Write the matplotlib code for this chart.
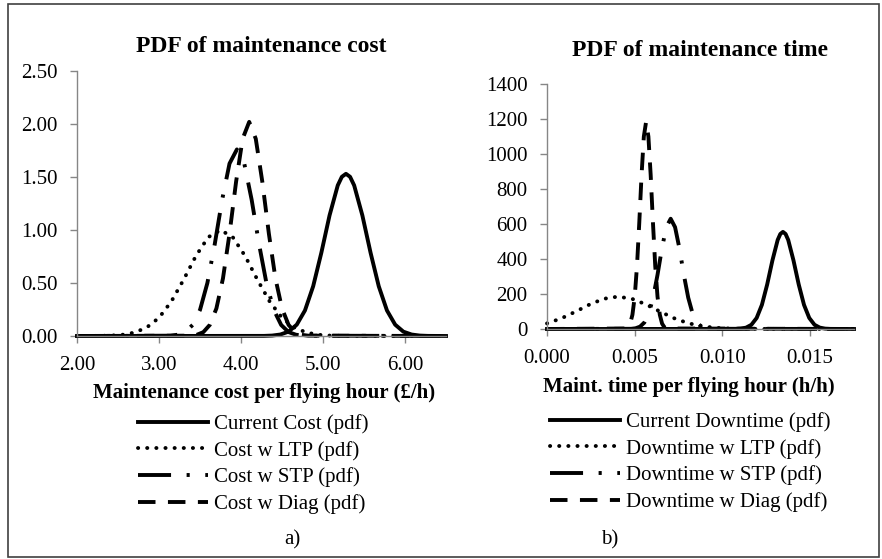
import matplotlib.pyplot as plt
from matplotlib.patches import Rectangle
from matplotlib.ticker import FormatStrFormatter

plt.rcParams['font.family'] = ['Liberation Serif', 'DejaVu Serif']

# ---- a) maintenance cost per flying hour (pdf values read off the chart)
cost_current_x = [2.00, 4.28, 4.38, 4.48, 4.58, 4.68, 4.78, 4.88, 4.98, 5.08, 5.18, 5.23,
                  5.28, 5.33, 5.38, 5.48, 5.58, 5.68, 5.78, 5.88, 5.98, 6.08, 6.18, 6.28, 6.50]
cost_current_y = [0.000, 0.001, 0.004, 0.014, 0.041, 0.107, 0.241, 0.469, 0.786, 1.138, 1.421, 1.502,
                  1.530, 1.502, 1.421, 1.138, 0.786, 0.469, 0.241, 0.107, 0.041, 0.014, 0.004, 0.001, 0.000]

cost_ltp_x = [2.00, 2.25, 2.40, 2.55, 2.70, 2.85, 3.00, 3.15, 3.30, 3.45, 3.60, 3.75,
              3.90, 4.05, 4.20, 4.35, 4.50, 4.65, 4.80, 4.95, 5.10, 5.25, 6.50]
cost_ltp_y = [0.000, 0.001, 0.003, 0.011, 0.032, 0.080, 0.172, 0.325, 0.531, 0.755, 0.932, 1.000,
              0.932, 0.755, 0.531, 0.325, 0.172, 0.080, 0.032, 0.011, 0.003, 0.001, 0.000]

cost_stp_x = [2.00, 3.14, 3.23, 3.32, 3.41, 3.50, 3.59, 3.68, 3.77, 3.86, 3.95,
              4.04, 4.13, 4.22, 4.31, 4.40, 4.49, 4.58, 4.67, 4.76, 6.50]
cost_stp_y = [0.000, 0.003, 0.012, 0.037, 0.104, 0.246, 0.500, 0.867, 1.285, 1.627, 1.760,
              1.627, 1.285, 0.867, 0.500, 0.246, 0.104, 0.037, 0.012, 0.003, 0.000]

cost_diag_x = [2.00, 3.38, 3.46, 3.54, 3.62, 3.70, 3.78, 3.86, 3.94, 4.02, 4.10,
               4.18, 4.26, 4.34, 4.42, 4.50, 4.58, 4.66, 4.74, 4.82, 6.50]
cost_diag_y = [0.000, 0.003, 0.011, 0.036, 0.105, 0.260, 0.543, 0.965, 1.455, 1.861, 2.020,
               1.861, 1.455, 0.965, 0.543, 0.260, 0.105, 0.036, 0.011, 0.003, 0.000]

# ---- b) maintenance time per flying hour
time_current_x = [0.0, 0.01075, 0.01105, 0.01135, 0.01165, 0.01195, 0.01225, 0.01255, 0.01285, 0.01315,
                  0.01330, 0.01345, 0.01360, 0.01375, 0.01405, 0.01435, 0.01465, 0.01495, 0.01525,
                  0.01555, 0.01585, 0.01615, 0.0175]
time_current_y = [0, 0.5, 2.2, 7.9, 24, 63, 138, 254, 392, 509,
                  543, 555, 543, 509, 392, 254, 138, 63, 24,
                  7.9, 2.2, 0.5, 0]

time_ltp_x = [0.0, 0.00084, 0.00164, 0.00244, 0.00324, 0.00404, 0.00484, 0.00564,
              0.00644, 0.00724, 0.00804, 0.00884, 0.00964, 0.01044, 0.01124, 0.0175]
time_ltp_y = [32, 61.7, 99.8, 140.6, 172.7, 185, 172.7, 140.6,
              99.8, 61.7, 33.3, 15.7, 6.4, 2.3, 0.7, 0]

time_stp_x = [0.0, 0.00480, 0.00505, 0.00530, 0.00555, 0.00580, 0.00605, 0.00630, 0.00655, 0.00680, 0.00705,
              0.00730, 0.00755, 0.00780, 0.00805, 0.00830, 0.00855, 0.00880, 0.00905, 0.00930, 0.0175]
time_stp_y = [0, 1.1, 4.1, 13.3, 37, 88, 179, 310, 460, 582, 630,
              582, 460, 310, 179, 88, 37, 13.3, 4.1, 1.1, 0]

time_diag_x = [0.0, 0.00448, 0.00461, 0.00474, 0.00487, 0.00500, 0.00513, 0.00526, 0.00539, 0.00552, 0.00565,
               0.00578, 0.00591, 0.00604, 0.00617, 0.00630, 0.00643, 0.00656, 0.00669, 0.00682, 0.0175]
time_diag_y = [0, 2.9, 10.1, 30.9, 81.4, 184.5, 360, 607, 880, 1100, 1185,
               1100, 880, 607, 360, 184.5, 81.4, 30.9, 10.1, 2.9, 0]

cost_labels = ["Current Cost (pdf)", "Cost w LTP (pdf)", "Cost w STP (pdf)", "Cost w Diag (pdf)"]
time_labels = ["Current Downtime (pdf)", "Downtime w LTP (pdf)", "Downtime w STP (pdf)", "Downtime w Diag (pdf)"]

LW = 2.8
styles = [
    dict(linestyle='-'),
    dict(linestyle=(0, (0.05, 2.3)), dash_capstyle='round'),
    dict(linestyle=(0, (8.5, 4.0, 0.8, 4.0))),
    dict(linestyle=(0, (4.5, 3.2))),
]
axis_grey = '#868686'

W, H = 882, 559
fig = plt.figure(figsize=(W / 100, H / 100), dpi=100)


def fx(px):
    return px / W


def fy(py):
    return 1 - py / H


ax1 = fig.add_axes([fx(77), fy(336), fx(446) - fx(77), fy(71) - fy(336)])
ax2 = fig.add_axes([fx(547), fy(329), fx(854) - fx(547), fy(84) - fy(329)])

cost_series = [(cost_current_x, cost_current_y), (cost_ltp_x, cost_ltp_y),
               (cost_stp_x, cost_stp_y), (cost_diag_x, cost_diag_y)]
time_series = [(time_current_x, time_current_y), (time_ltp_x, time_ltp_y),
               (time_stp_x, time_stp_y), (time_diag_x, time_diag_y)]

h1 = [ax1.plot(x, y, color='black', lw=LW, **st, clip_on=False)[0]
      for (x, y), st in zip(cost_series, styles)]
h2 = [ax2.plot(x, y, color='black', lw=LW, **st, clip_on=False)[0]
      for (x, y), st in zip(time_series, styles)]

ax1.set_xlim(2, 6.5)
ax1.set_ylim(0, 2.5)
ax1.set_xticks([2, 3, 4, 5, 6])
ax1.set_yticks([0, 0.5, 1.0, 1.5, 2.0, 2.5])
ax1.xaxis.set_major_formatter(FormatStrFormatter('%.2f'))
ax1.yaxis.set_major_formatter(FormatStrFormatter('%.2f'))

ax2.set_xlim(0, 0.0175)
ax2.set_ylim(0, 1400)
ax2.set_xticks([0, 0.005, 0.010, 0.015])
ax2.set_yticks(range(0, 1401, 200))
ax2.xaxis.set_major_formatter(FormatStrFormatter('%.3f'))

for ax in (ax1, ax2):
    for side in ('top', 'right'):
        ax.spines[side].set_visible(False)
    for side in ('left', 'bottom'):
        ax.spines[side].set_color(axis_grey)
        ax.spines[side].set_linewidth(1.0)
    ax.tick_params(direction='out', length=5, width=1.0, color=axis_grey,
                   labelsize=15, labelcolor='black')
    ax.tick_params(axis='y', pad=9)
    ax.tick_params(axis='x', pad=9.5)
    ax.set_facecolor('none')

# titles and axis titles
fig.text(fx(261.5), fy(46), "PDF of maintenance cost", ha='center', va='center',
         fontsize=17, fontweight='bold')
fig.text(fx(700.5), fy(50), "PDF of maintenance time", ha='center', va='center',
         fontsize=17, fontweight='bold')
fig.text(fx(264), fy(393), "Maintenance cost per flying hour (£/h)", ha='center', va='center',
         fontsize=15, fontweight='bold')
fig.text(fx(688.5), fy(387), "Maint. time per flying hour (h/h)", ha='center', va='center',
         fontsize=15, fontweight='bold')

leg_kw = dict(loc='upper left', frameon=False, fontsize=15, handlelength=3.35,
              handletextpad=0.3, labelspacing=0.33, borderpad=0, borderaxespad=0,
              bbox_transform=fig.transFigure)
fig.legend(h1, cost_labels, bbox_to_anchor=(fx(138), fy(414)), **leg_kw)
fig.legend(h2, time_labels, bbox_to_anchor=(fx(550), fy(412)), **leg_kw)

fig.text(fx(292), fy(540), "a)", ha='center', va='center', fontsize=15)
fig.text(fx(610), fy(540), "b)", ha='center', va='center', fontsize=15)

# outer frame
fig.add_artist(Rectangle((fx(8), fy(557)), fx(879) - fx(8), fy(4) - fy(557),
                         transform=fig.transFigure, fill=False, edgecolor='#404040', lw=1.2))

fig.savefig("out.png", dpi=100)
